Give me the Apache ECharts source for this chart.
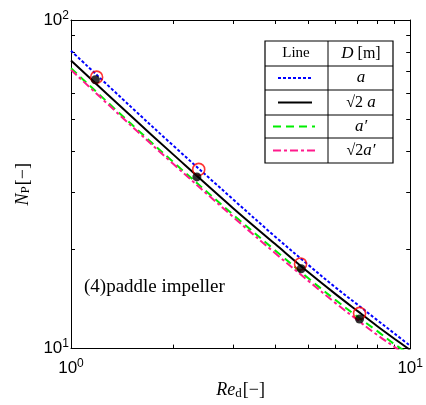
<!DOCTYPE html>
<html>
<head>
<meta charset="utf-8">
<script src="https://cdn.jsdelivr.net/npm/echarts@6/dist/echarts.min.js"></script>
<style>
  html, body { margin: 0; padding: 0; background: #fff; }
  #chart { width: 426px; height: 405px; }
</style>
</head>
<body>
<div id="chart"></div>
<script>
// Power number vs. Reynolds number, paddle impeller
const reGrid = [1, 1.5, 2, 3, 4, 5, 6, 7, 8, 9, 10];
const npA      = [80.6, 54.5, 41.5, 28.5, 21.9, 18.0, 15.4, 13.6, 12.2, 11.1, 10.2];
const npRoot2A = [75.3, 51.1, 39.0, 26.8, 20.8, 17.1, 14.7, 13.0, 11.7, 10.7, 9.9];
const npAp     = [71.3, 48.4, 37.0, 25.6, 19.9, 16.4, 14.1, 12.5, 11.3, 10.3, 9.6];
const npRoot2Ap= [70.5, 47.8, 36.5, 25.2, 19.5, 16.1, 13.8, 12.2, 11.0, 10.1, 9.3];

const measRe  = [1.19, 2.38, 4.75, 7.09];
const measA   = [67.0, 35.1, 18.1, 12.8];
const measRe2 = [1.18, 2.35, 4.77, 7.09];
const measR2A = [65.8, 33.3, 17.5, 12.3];

const xTicks = [1, 2, 3, 4, 5, 6, 7, 8, 9, 10];
const yTicks = [10, 20, 30, 40, 50, 60, 70, 80, 90, 100];

const pair = (xs, ys) => xs.map((x, i) => [x, ys[i]]);

const SERIF = '"Liberation Serif", "Times New Roman", serif';
const SANS = '"Liberation Sans", Arial, sans-serif';

const powLabel = v => {
  const e = Math.round(Math.log10(v));
  return '{b|10}{s|' + e + '}';
};
const powRich = {
  b: { fontFamily: SANS, fontSize: 17, color: '#000' },
  s: { fontFamily: SANS, fontSize: 12, color: '#000', padding: [0, 0, 9, 0] }
};

const frameLine = { show: true, lineStyle: { color: '#000', width: 1 } };
const tickStyle = { lineStyle: { color: '#000', width: 1 } };

function xAxisDef(pos, labels) {
  return {
    type: 'log', logBase: 10, min: 1, max: 10, position: pos,
    axisLine: Object.assign({ onZero: false }, frameLine),
    axisTick: Object.assign({ show: true, inside: true, length: 4, customValues: xTicks }, tickStyle),
    axisLabel: labels ? { show: true, margin: 9, formatter: powLabel, rich: powRich } : { show: false },
    splitLine: { show: false }
  };
}
function yAxisDef(pos, labels) {
  return {
    type: 'log', logBase: 10, min: 10, max: 100, position: pos,
    axisLine: Object.assign({ onZero: false }, frameLine),
    axisTick: Object.assign({ show: true, inside: true, length: 4, customValues: yTicks }, tickStyle),
    axisLabel: labels ? { show: true, margin: 2, formatter: powLabel, rich: powRich } : { show: false },
    splitLine: { show: false }
  };
}

const titleRich = {
  i: { fontFamily: SERIF, fontStyle: 'italic', fontSize: 18, color: '#000' },
  sub: { fontFamily: SERIF, fontSize: 13, color: '#000', padding: [6, 1, 0, 0] },
  n: { fontFamily: SERIF, fontSize: 18, color: '#000' }
};

const xMain = xAxisDef('bottom', true);
xMain.name = '{i|Re}{sub|d}{n|[−]}';
xMain.nameLocation = 'middle';
xMain.nameGap = 27;
xMain.nameTextStyle = { rich: titleRich };

const yMain = yAxisDef('left', true);
yMain.name = '{i|N}{sub|P}{n|[−]}';
yMain.nameLocation = 'middle';
yMain.nameGap = 31;
yMain.nameRotate = 90;
yMain.nameTextStyle = { rich: titleRich };

const lineSeries = (name, data, color, type) => ({
  name, type: 'line', xAxisIndex: 0, yAxisIndex: 0,
  data: pair(reGrid, data), smooth: 0.35, symbol: 'none', clip: true,
  lineStyle: { color, width: 2, type }, z: 2
});

const chart = echarts.init(document.getElementById('chart'), null, { renderer: 'canvas' });

// legend table geometry
const tbl = { l: 265, r: 393, t: 41, mid: 328, rows: [66, 90, 115, 138, 163] };
const rowMid = [];
for (let i = 0; i < 4; i++) rowMid.push((tbl.rows[i] + tbl.rows[i + 1]) / 2);
const tblText = (x, y, text, rich) => ({
  type: 'text', x, y, z: 10,
  style: { text, x: 0, y: 0, align: 'center', verticalAlign: 'middle', fontFamily: SERIF, fontSize: 15, fill: '#000', rich }
});
const italicRich = { i: { fontFamily: SERIF, fontStyle: 'italic', fontSize: 17, fill: '#000' }, n: { fontFamily: SERIF, fontSize: 16, fill: '#000' } };
const sample = (y, color, dash, x1, x2) => ({
  type: 'line', z: 10,
  shape: { x1, y1: y, x2, y2: y },
  style: { stroke: color, lineWidth: 2, lineDash: dash }
});

const graphics = [
  { type: 'rect', z: 9, shape: { x: tbl.l, y: tbl.t, width: tbl.r - tbl.l, height: tbl.rows[4] - tbl.t },
    style: { fill: '#fff', stroke: '#000', lineWidth: 1.2 } },
  { type: 'line', z: 10, shape: { x1: tbl.mid, y1: tbl.t, x2: tbl.mid, y2: tbl.rows[4] }, style: { stroke: '#000', lineWidth: 1 } },
  ...tbl.rows.slice(0, 4).map(y => ({ type: 'line', z: 10, shape: { x1: tbl.l, y1: y, x2: tbl.r, y2: y }, style: { stroke: '#000', lineWidth: 1 } })),
  tblText(296, (tbl.t + tbl.rows[0]) / 2, 'Line'),
  tblText(361, (tbl.t + tbl.rows[0]) / 2, '{i|D}{n| [m]}', italicRich),
  sample(rowMid[0], '#0000ff', [3, 2], 278, 312),
  sample(rowMid[1], '#000000', null, 278, 312),
  sample(rowMid[2], '#00ee00', [8, 5], 273, 315),
  sample(rowMid[3], '#ff1a8c', [8, 3, 3, 3], 273, 315),
  tblText(361, rowMid[0], '{i|a}', italicRich),
  tblText(361, rowMid[1], '{n|√2}{i| a}', italicRich),
  tblText(361, rowMid[2], '{i|a′}', italicRich),
  tblText(361, rowMid[3], '{n|√2}{i|a′}', italicRich),
  { type: 'text', x: 84, y: 287, z: 10,
    style: { text: '(4)paddle impeller', fontFamily: SERIF, fontSize: 19, fill: '#000', verticalAlign: 'middle' } }
];

chart.setOption({
  animation: false,
  backgroundColor: '#fff',
  grid: { left: 71, right: 13, top: 20, bottom: 44, containLabel: false },
  xAxis: [xMain, xAxisDef('top', false)],
  yAxis: [yMain, yAxisDef('right', false)],
  series: [
    lineSeries('a', npA, '#0000ff', [3, 2]),
    lineSeries('√2a', npRoot2A, '#000000', 'solid'),
    lineSeries("a'", npAp, '#00ee00', [8, 5]),
    lineSeries("√2a'", npRoot2Ap, '#ff1a8c', [8, 3, 3, 3]),
    {
      name: 'meas a', type: 'scatter', data: pair(measRe, measA), symbol: 'circle', symbolSize: 12, z: 3,
      itemStyle: { color: 'rgba(0,0,0,0)', borderColor: '#ff0000', borderWidth: 1.6 }
    },
    {
      name: 'meas √2a', type: 'scatter', data: pair(measRe2, measR2A), symbol: 'circle', symbolSize: 9, z: 4,
      itemStyle: { color: '#000' }
    }
  ],
  graphic: graphics
});
</script>
</body>
</html>
